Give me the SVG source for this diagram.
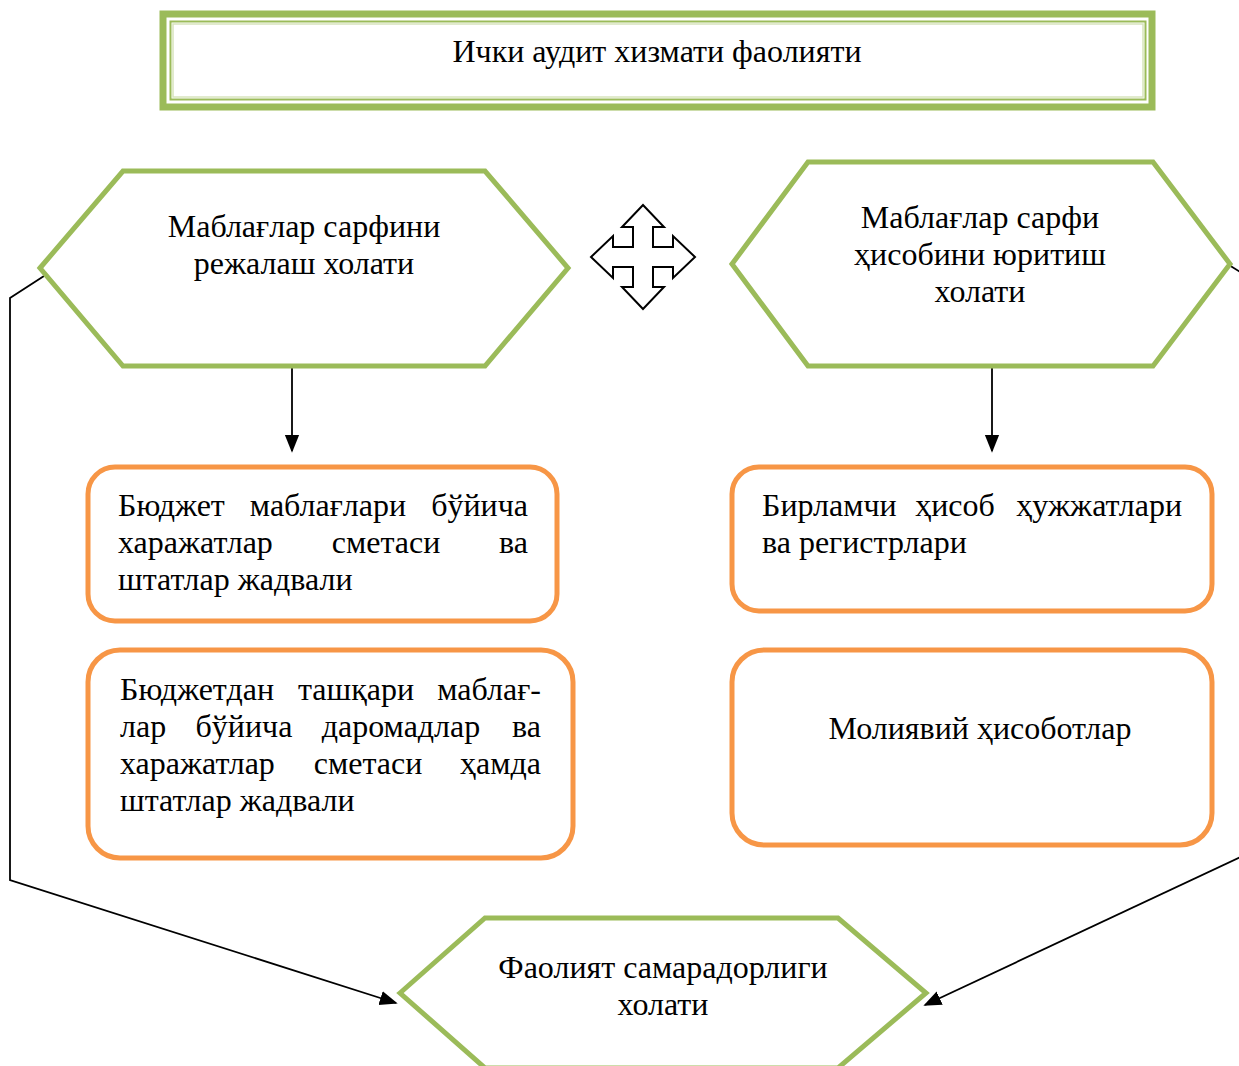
<svg xmlns="http://www.w3.org/2000/svg" width="1239" height="1066" viewBox="0 0 1239 1066">
<style>
text{font-family:"Liberation Serif","Times New Roman",serif;font-size:32px;fill:#000}
.hex{fill:#fff;stroke:#9BBB59;stroke-width:5;stroke-linejoin:miter}
.box{fill:#fff;stroke:#F79646;stroke-width:5}
.c{text-anchor:middle}
.e{text-anchor:end}
.con{fill:none;stroke:#000;stroke-width:1.8}
</style>
<defs>
<marker id="ah2" viewBox="0 0 10 10" refX="9" refY="5" markerWidth="18" markerHeight="18" markerUnits="userSpaceOnUse" orient="auto">
<path d="M0,1 L10,5 L0,9 Z" fill="#000"/>
</marker>
</defs>
<rect width="1239" height="1066" fill="#fff"/>

<g id="title">
<rect x="163" y="14" width="989" height="93" fill="#fff" stroke="#9BBB59" stroke-width="7"/>
<rect x="170.5" y="21.5" width="975" height="78" fill="none" stroke="#9BBB59" stroke-width="2"/>
<rect x="173" y="24" width="970" height="73" fill="none" stroke="#D7E4BD" stroke-width="1.5"/>
<text class="c" x="657" y="62">Ички аудит хизмати фаолияти</text>
</g>

<g id="connectors">
<polyline class="con" points="44,276 10,298 10,880 396,1003" marker-end="url(#ah2)"/>
<polyline class="con" points="1229,265 1245,275"/>
<polyline class="con" points="1245,855 925,1005" marker-end="url(#ah2)"/>
<line class="con" x1="292" y1="366" x2="292" y2="451" stroke-width="2.5" marker-end="url(#ah2)"/>
<line class="con" x1="992" y1="366" x2="992" y2="451" stroke-width="2.5" marker-end="url(#ah2)"/>
</g>

<g id="hex-left">
<polygon class="hex" points="40,268 123,171 485,171 568,268 485,366 123,366"/>
<text class="c" x="304" y="237">Маблағлар сарфини</text>
<text class="c" x="304" y="274">режалаш холати</text>
</g>

<g id="move-arrow">
<path d="M643,205 L664,227 L653,227 L653,247 L673,247 L673,236 L695,257 L673,278 L673,267 L653,267 L653,287 L664,287 L643,309 L622,287 L633,287 L633,267 L613,267 L613,278 L591,257 L613,236 L613,247 L633,247 L633,227 L622,227 Z" fill="#fff" stroke="#000" stroke-width="2" stroke-linejoin="miter"/>
</g>

<g id="hex-right">
<polygon class="hex" points="732,264 808,162 1153,162 1230,264 1153,366 808,366"/>
<text class="c" x="980" y="228">Маблағлар сарфи</text>
<text class="c" x="980" y="265">ҳисобини юритиш</text>
<text class="c" x="980" y="302">холати</text>
</g>

<g id="box1">
<rect class="box" x="88" y="467" width="469" height="154" rx="27"/>
<text x="118" y="516">Бюджет</text>
<text class="c" x="328" y="516">маблағлари</text>
<text class="e" x="528" y="516">бўйича</text>
<text x="118" y="553">харажатлар</text>
<text class="c" x="386" y="553">сметаси</text>
<text class="e" x="528" y="553">ва</text>
<text x="118" y="590">штатлар жадвали</text>
</g>

<g id="box2">
<rect class="box" x="88" y="650" width="485" height="208" rx="32"/>
<text x="120" y="700">Бюджетдан</text>
<text class="c" x="356" y="700">ташқари</text>
<text class="e" x="541" y="700">маблағ-</text>
<text x="120" y="737">лар</text>
<text class="c" x="244" y="737">бўйича</text>
<text class="c" x="401" y="737">даромадлар</text>
<text class="e" x="541" y="737">ва</text>
<text x="120" y="774">харажатлар</text>
<text class="c" x="368" y="774">сметаси</text>
<text class="e" x="541" y="774">ҳамда</text>
<text x="120" y="811">штатлар жадвали</text>
</g>

<g id="box3">
<rect class="box" x="732" y="467" width="480" height="144" rx="27"/>
<text x="762" y="516">Бирламчи</text>
<text class="c" x="955" y="516">ҳисоб</text>
<text class="e" x="1182" y="516">ҳужжатлари</text>
<text x="762" y="553">ва регистрлари</text>
</g>

<g id="box4">
<rect class="box" x="732" y="650" width="480" height="195" rx="32"/>
<text class="c" x="980" y="739">Молиявий ҳисоботлар</text>
</g>

<g id="hex-bottom">
<polygon class="hex" points="400,993 485,918 838,918 926,993 838,1068 485,1068"/>
<text class="c" x="663" y="978">Фаолият самарадорлиги</text>
<text class="c" x="663" y="1015">холати</text>
</g>
</svg>
